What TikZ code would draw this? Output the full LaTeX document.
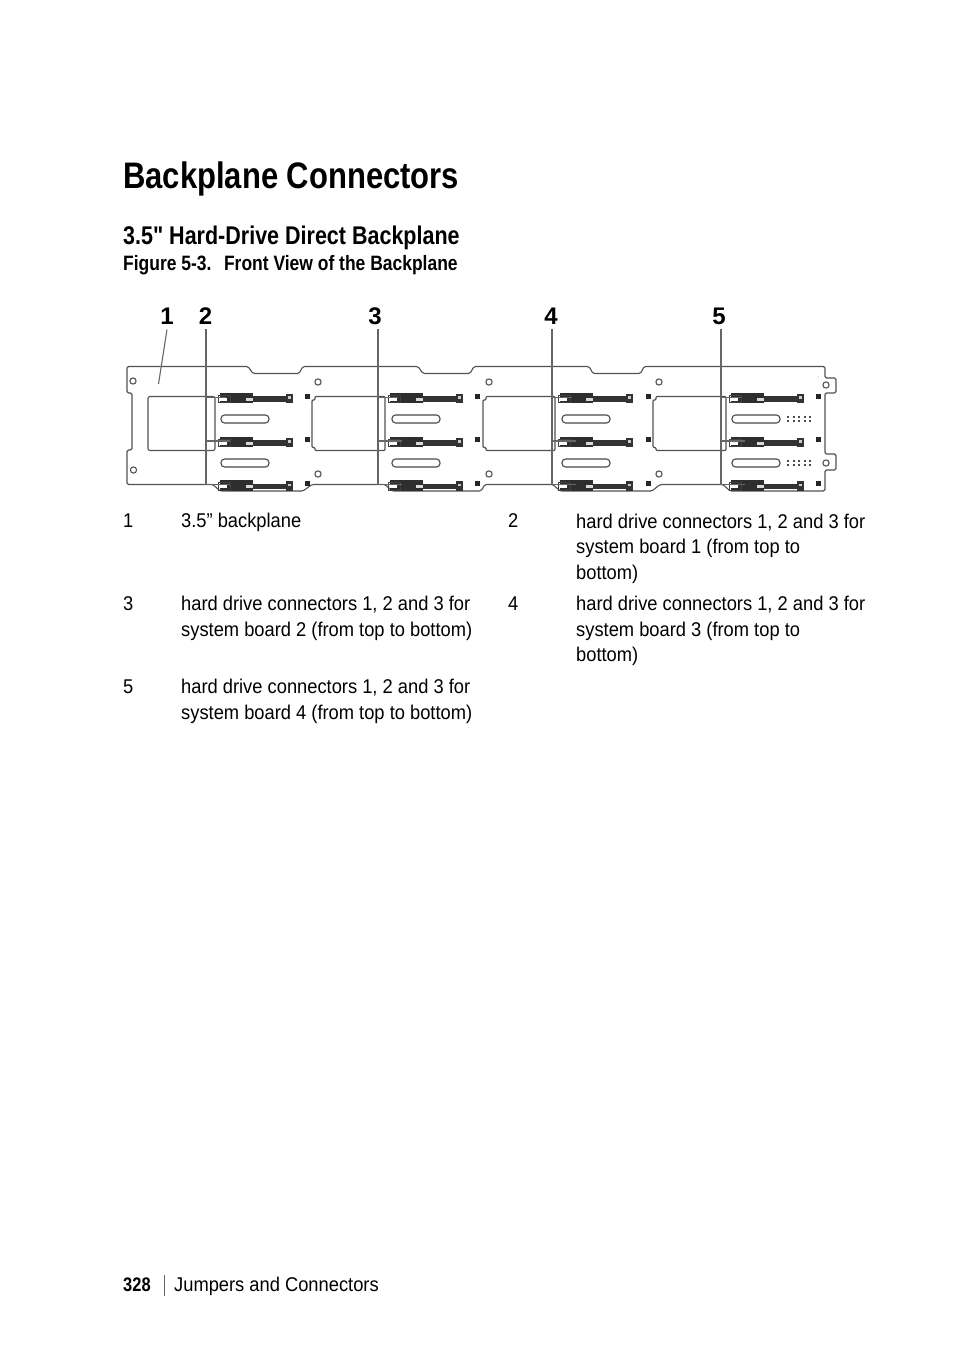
\documentclass[tikz,border=0pt]{standalone}
\usepackage{fontspec}
\setmainfont{Liberation Sans}
\newfontfamily\nar[FakeStretch=0.84]{Liberation Sans}
\newfontfamily\bodyfam[FakeStretch=0.92]{Liberation Sans}
\tikzset{
 px/.style={x=1pt,y=-1pt},
 board/.style={draw=black!68,line width=1.1pt,line join=round},
 leader/.style={draw=black!60,line width=1.1pt},
 slot/.style={draw=black!72,line width=1.1pt,rounded corners=3.6pt},
 hole/.style={draw=black!68,line width=1.1pt},
 pad/.style={fill=black!85},
 callout/.style={font=\bfseries\fontsize{24}{24}\selectfont,anchor=base,inner sep=0pt},
 body/.style={font=\bodyfam\fontsize{19.9}{25.4}\selectfont,anchor=base west,inner sep=0pt,align=left},
}
\newcommand{\hdconn}[2]{%
 \fill[black!82] (#1+2,#2-4.5) rectangle (#1+35,#2+6);
 \draw[black!75,line width=.9pt] (#1,#2-2) rectangle (#1+12,#2+5.5);
 \fill[white] (#1+2,#2+0.5) rectangle (#1+9,#2+3.5);
 \fill[black!15] (#1+28,#2+.5) rectangle (#1+35,#2+3.5);
 \fill[black!80] (#1+35,#2-1) rectangle (#1+70,#2+4.5);
 \fill[black!80] (#1+68,#2-3.5) rectangle (#1+75,#2+6);
 \fill[black!20] (#1+70,#2-1) rectangle (#1+73,#2+1.5);
}
\newcommand{\dotgrid}[2]{%
 \foreach \dx in {0,5.5,11,16.5,22} \foreach \dy in {0,4.5} \fill[black!70] (#1+\dx-1,#2+\dy-1) rectangle (#1+\dx+1,#2+\dy+1);
}
\begin{document}
\begin{tikzpicture}[px]
\useasboundingbox (0,0) rectangle (954,1354);
\fill[white] (0,0) rectangle (954,1354);
\node[font=\nar\bfseries\fontsize{36.9}{36.9}\selectfont,anchor=base west,inner sep=0pt] (title) at (123,188) {Backplane Connectors};
\node[font=\nar\bfseries\fontsize{25.6}{25.6}\selectfont,anchor=base west,inner sep=0pt] (sub) at (123,244) {3.5" Hard-Drive Direct Backplane};
\node[font=\nar\bfseries\fontsize{20.8}{20.8}\selectfont,anchor=base west,inner sep=0pt] (fig) at (123,270) {Figure 5-3.\hspace{0.6em}Front View of the Backplane};

% board outline
\draw[board,rounded corners=1.5pt] (127,366.5) -- (248,366.5) -- (253,373.5) -- (299,373.5) -- (303,366.5)
 -- (418,366.5) -- (423,373.5) -- (470,373.5) -- (474,366.5)
 -- (589,366.5) -- (593,373.5) -- (640.5,373.5) -- (644,366.5)
 -- (825,366.5) -- (825,378) -- (836,378) -- (836,393) -- (825,393)
 -- (825,454) -- (836,454) -- (836,470) -- (825,470) -- (825,491)
 -- (730,491) -- (723,484.5) -- (660,484.5) -- (652,491)
 -- (560,491) -- (553,484.5) -- (485,484.5) -- (481,491)
 -- (392,491) -- (385,484.5) -- (312,484.5) -- (303,491)
 -- (220,491) -- (213,484.5) -- (127,484.5) -- (127,450) -- (132,450) -- (132,393) -- (127,393) -- cycle;
% cut-outs
\draw[board,rounded corners=2pt] (148,396.5) rectangle (215,450.5);
\foreach \xa/\xb in {312/385,483/555,653/726}
 \draw[board,rounded corners=1pt] (\xa+3,396.5) -- (\xb,396.5) -- (\xb,450.5) -- (\xa+3,450.5) -- (\xa+3,447.5) -- (\xa,447.5) -- (\xa,400) -- (\xa+3,400) -- cycle;
% holes
\foreach \hx/\hy in {133/381,133.5/470,318/382,318/474,489/382,489/474,659/382,659/474,826/385,826/463}
 \draw[hole] (\hx,\hy) circle (3.1);
% slots
\foreach \sx in {221,392,562,732} {
 \draw[slot] (\sx,415) rectangle (\sx+48,423);
 \draw[slot] (\sx,459) rectangle (\sx+48,467);
}
% connectors and pads
\foreach \cx in {218,388,558,729} \foreach \cy in {397,441,484.5} \hdconn{\cx}{\cy}
\foreach \px in {307,477,648,818} \foreach \py in {396,439,483} \fill[pad] (\px-2.5,\py-2.5) rectangle (\px+2.5,\py+2.5);
\dotgrid{788}{416.5}
\dotgrid{788}{460.5}
\fill[black!50] (818,377) circle (.5);

% callouts
\node[callout] (n1) at (167,324) {1};
\node[callout] (n2) at (205.5,324) {2};
\node[callout] (n3) at (375,324) {3};
\node[callout] (n4) at (551,324) {4};
\node[callout] (n5) at (719,324) {5};
\coordinate (s1) at (167,329.5);
\coordinate (e1) at (158.5,384);
\draw[leader] (s1) -- (e1);
\foreach \lab/\lx in {a/206,b/378,c/552,d/721} {
 \coordinate (t\lab) at (\lx,329);
 \coordinate (m\lab) at (\lx,441);
 \coordinate (u\lab) at (\lx,397.5);
 \coordinate (d\lab) at (\lx,484.5);
 \coordinate (ue\lab) at (\lx+20,397.5);
 \coordinate (me\lab) at (\lx+24,441);
 \coordinate (de\lab) at (\lx+24,484.5);
 \draw[leader] (t\lab) -- (d\lab);
 \draw[leader] (u\lab) -- (ue\lab);
 \draw[leader] (m\lab) -- (me\lab);
 \draw[leader] (d\lab) -- (de\lab);
}

% legend
\node[body] (k1) at (123,527) {1};
\node[body] (v1) at (181,527) {3.5” backplane};
\node[body] (k2) at (508,527) {2};
\node[body] (v2) at (576,579) {hard drive connectors 1, 2 and 3 for\\system board 1 (from top to\\bottom)};
\node[body] (k3) at (123,610) {3};
\node[body] (v3) at (181,636) {hard drive connectors 1, 2 and 3 for\\system board 2 (from top to bottom)};
\node[body] (k4) at (508,610) {4};
\node[body] (v4) at (576,661.5) {hard drive connectors 1, 2 and 3 for\\system board 3 (from top to\\bottom)};
\node[body] (k5) at (123,693) {5};
\node[body] (v5) at (181,719) {hard drive connectors 1, 2 and 3 for\\system board 4 (from top to bottom)};

% footer
\node[font=\nar\bfseries\fontsize{19.6}{19.6}\selectfont,anchor=base west,inner sep=0pt] (page) at (123,1291) {328};
\draw[black!60,line width=.6pt] (164,1275) -- (164,1296);
\node[body] (foot) at (174,1291) {Jumpers and Connectors};
\end{tikzpicture}
\end{document}
